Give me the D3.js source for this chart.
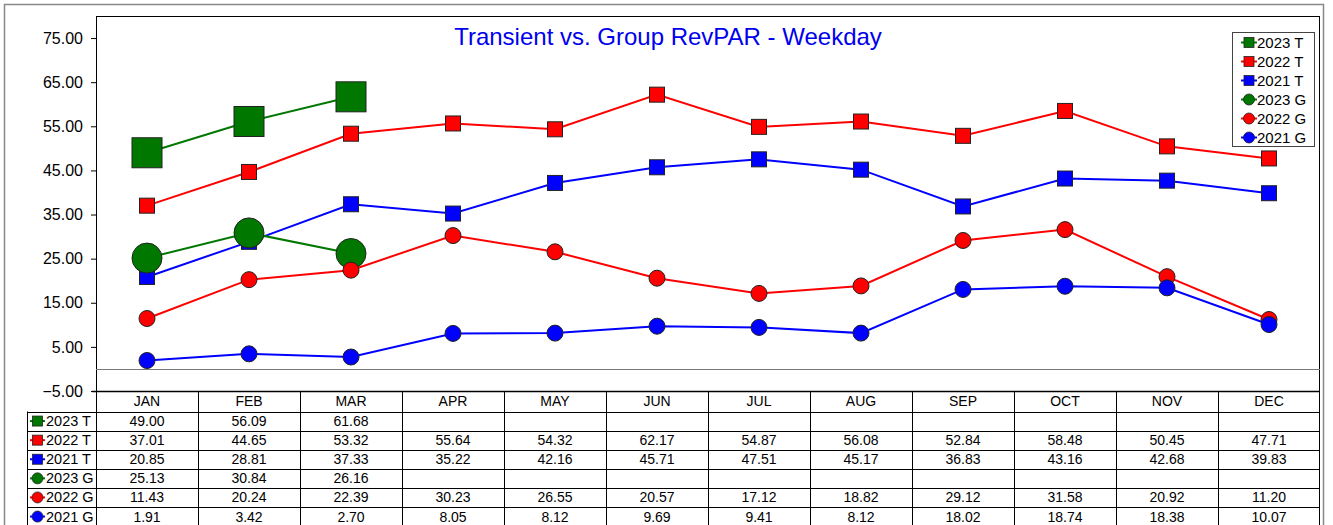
<!DOCTYPE html>
<html><head><meta charset="utf-8">
<script src="https://cdn.jsdelivr.net/npm/d3@7"></script>
<style>
body{margin:0;background:#fff;}
svg{display:block;font-family:Arial,"Liberation Sans",sans-serif;}
</style></head>
<body>
<svg id="c" width="1333" height="525"></svg>
<script>
const months = ["JAN","FEB","MAR","APR","MAY","JUN","JUL","AUG","SEP","OCT","NOV","DEC"];
const seriesNames = ["2023 T","2022 T","2021 T","2023 G","2022 G","2021 G"];
const seriesColors = ["#007800","#ff0000","#0000ff","#007800","#ff0000","#0000ff"];
const seriesShapes = ["square","square","square","circle","circle","circle"];
const seriesBig = [true,false,false,true,false,false];
const t2023 = [49.00,56.09,61.68,null,null,null,null,null,null,null,null,null];
const t2022 = [37.01,44.65,53.32,55.64,54.32,62.17,54.87,56.08,52.84,58.48,50.45,47.71];
const t2021 = [20.85,28.81,37.33,35.22,42.16,45.71,47.51,45.17,36.83,43.16,42.68,39.83];
const g2023 = [25.13,30.84,26.16,null,null,null,null,null,null,null,null,null];
const g2022 = [11.43,20.24,22.39,30.23,26.55,20.57,17.12,18.82,29.12,31.58,20.92,11.20];
const g2021 = [1.91,3.42,2.70,8.05,8.12,9.69,9.41,8.12,18.02,18.74,18.38,10.07];
const yTicks = [-5,5,15,25,35,45,55,65,75];
const title = "Transient vs. Group RevPAR - Weekday";

const allSeries = [t2023,t2022,t2021,g2023,g2022,g2021];
const svg = d3.select("#c");
const L = 96, R = 1320, T = 16, B = 391;
const x = d3.scaleBand().domain(months).range([L,R]);
const y = d3.scaleLinear().domain([-5,80]).range([B,T]);

// outer frame
svg.append("rect").attr("x",4.5).attr("y",4.5).attr("width",1319).attr("height",540)
  .attr("fill","none").attr("stroke","#888").attr("stroke-width",1.5);
// plot frame
svg.append("rect").attr("x",L+0.5).attr("y",T+0.5).attr("width",R-L-1).attr("height",B-T)
  .attr("fill","#fff").attr("stroke","#000").attr("stroke-width",1);
// zero line
svg.append("line").attr("x1",L).attr("x2",R).attr("y1",Math.round(y(0))+0.5).attr("y2",Math.round(y(0))+0.5)
  .attr("stroke","#777").attr("stroke-width",1.2);

// y axis
const ya = svg.append("g").attr("transform",`translate(${L},0)`)
  .call(d3.axisLeft(y).tickValues(yTicks).tickFormat(d3.format(".2f")).tickSize(5).tickPadding(8));
ya.select(".domain").remove();
ya.selectAll("text").attr("font-size",16).attr("fill","#000").attr("font-family","Arial, Liberation Sans, sans-serif");
ya.selectAll("line").attr("stroke","#000");

// axis line at bottom
svg.append("line").attr("x1",L-4).attr("x2",R).attr("y1",B+0.5).attr("y2",B+0.5).attr("stroke","#000").attr("stroke-width",1.5);

// title
svg.append("text").attr("x",668).attr("y",45).attr("text-anchor","middle")
  .attr("font-size",24).attr("fill","#0000ee").text(title);

// marker drawing
function marker(g, shape, big, cx, cy, color){
  if(shape==="square"){
    const s = big?30:15;
    g.append("rect").attr("x",cx-s/2).attr("y",cy-s/2).attr("width",s).attr("height",s)
      .attr("fill",color).attr("stroke","#222").attr("stroke-width",1);
  } else {
    const r = big?15:8;
    g.append("circle").attr("cx",cx).attr("cy",cy).attr("r",r)
      .attr("fill",color).attr("stroke","#222").attr("stroke-width",1);
  }
}

const line = d3.line().defined(d=>d.v!=null).x(d=>x(d.m)+x.bandwidth()/2).y(d=>y(d.v));
allSeries.forEach((vals,i)=>{
  const g = svg.append("g");
  const data = vals.map((v,j)=>({m:months[j],v}));
  g.append("path").datum(data).attr("d",line).attr("fill","none")
    .attr("stroke",seriesColors[i]).attr("stroke-width",2);
  data.filter(d=>d.v!=null).forEach(d=>marker(g,seriesShapes[i],seriesBig[i],x(d.m)+x.bandwidth()/2,y(d.v),seriesColors[i]));
});

// legend
const lg = svg.append("g");
lg.append("rect").attr("x",1232.5).attr("y",32.5).attr("width",82).attr("height",114)
  .attr("fill","#fff").attr("stroke","#444").attr("stroke-width",1);
seriesNames.forEach((n,i)=>{
  const cy = 42.5 + i*19;
  lg.append("line").attr("x1",1241).attr("x2",1257).attr("y1",cy).attr("y2",cy).attr("stroke",seriesColors[i]).attr("stroke-width",2);
  if(seriesShapes[i]==="square") lg.append("rect").attr("x",1244).attr("y",cy-5).attr("width",10).attr("height",10).attr("fill",seriesColors[i]).attr("stroke","#222").attr("stroke-width",0.8);
  else lg.append("circle").attr("cx",1249).attr("cy",cy).attr("r",5.5).attr("fill",seriesColors[i]).attr("stroke","#222").attr("stroke-width",0.8);
  lg.append("text").attr("x",1257).attr("y",cy+5.5).attr("font-size",15).attr("fill","#000").text(n);
});

// table
const tb = svg.append("g");
const headTop = B, rowTop = 411.5, rowH = 19.1;
const nRows = seriesNames.length;
const tableBottom = rowTop + nRows*rowH;
months.forEach(m=>{
  tb.append("text").attr("x",x(m)+x.bandwidth()/2).attr("y",406).attr("text-anchor","middle")
    .attr("font-size",14).attr("fill","#000").text(m);
});
months.forEach(m=>{
  const xx = Math.round(x(m))+0.5;
  tb.append("line").attr("x1",xx).attr("x2",xx).attr("y1",headTop).attr("y2",tableBottom+5).attr("stroke","#000");
});
tb.append("line").attr("x1",R-0.5).attr("x2",R-0.5).attr("y1",headTop).attr("y2",tableBottom+5).attr("stroke","#000");
tb.append("line").attr("x1",27.5).attr("x2",27.5).attr("y1",rowTop).attr("y2",tableBottom+5).attr("stroke","#000");
for(let r=0;r<=nRows;r++){
  const yy = Math.round(rowTop + r*rowH)+0.5;
  tb.append("line").attr("x1",27).attr("x2",R).attr("y1",yy).attr("y2",yy).attr("stroke","#000");
}
seriesNames.forEach((n,i)=>{
  const cy = rowTop + i*rowH + rowH/2;
  tb.append("line").attr("x1",30).attr("x2",45).attr("y1",cy).attr("y2",cy).attr("stroke",seriesColors[i]).attr("stroke-width",2);
  if(seriesShapes[i]==="square") tb.append("rect").attr("x",32.5).attr("y",cy-5).attr("width",10).attr("height",10).attr("fill",seriesColors[i]).attr("stroke","#222").attr("stroke-width",0.8);
  else tb.append("circle").attr("cx",37.5).attr("cy",cy).attr("r",5.5).attr("fill",seriesColors[i]).attr("stroke","#222").attr("stroke-width",0.8);
  tb.append("text").attr("x",46).attr("y",cy+5).attr("font-size",14.5).attr("fill","#000").text(n);
  allSeries[i].forEach((v,j)=>{
    if(v==null) return;
    tb.append("text").attr("x",x(months[j])+x.bandwidth()/2).attr("y",cy+5).attr("text-anchor","middle")
      .attr("font-size",14).attr("fill","#000").text(v.toFixed(2));
  });
});
</script>
</body></html>
